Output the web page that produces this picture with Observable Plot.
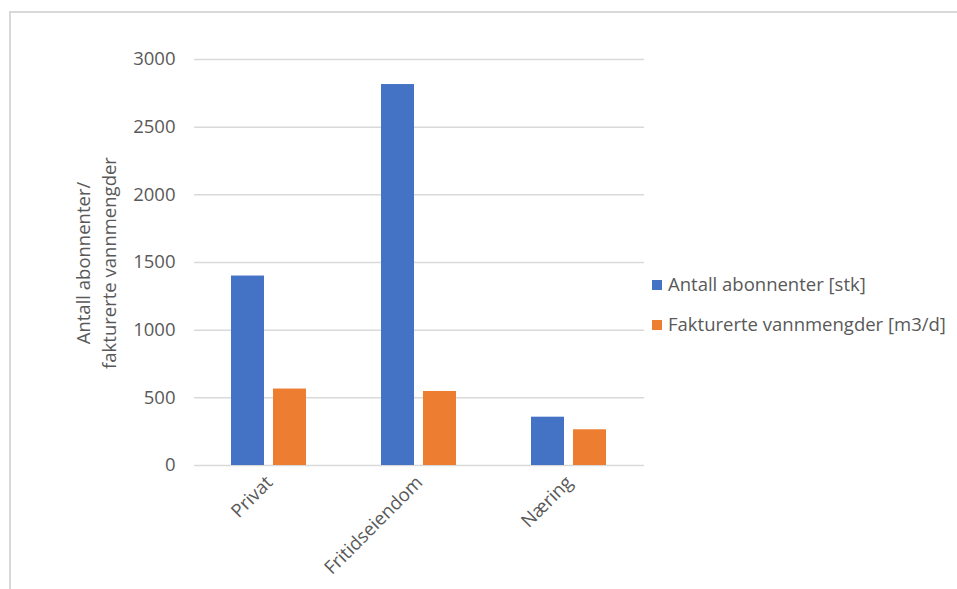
<!DOCTYPE html>
<html>
<head>
<meta charset="utf-8">
<script src="https://cdn.jsdelivr.net/npm/d3@7"></script>
<script src="https://cdn.jsdelivr.net/npm/@observablehq/plot@0.6"></script>
<style>
  html, body { margin: 0; padding: 0; background: #fff; }
  body { width: 957px; height: 589px; position: relative; overflow: hidden; font-family: "Open Sans", sans-serif; }
  #frame { position: absolute; left: 9px; top: 11px; width: 1000px; height: 700px; border-left: 2px solid #d9d9d9; border-top: 2px solid #d9d9d9; box-sizing: border-box; }
  #chart { position: absolute; left: 0; top: 0; }
  .leg { position: absolute; left: 652px; font-size: 18.5px; color: #595959; white-space: nowrap; line-height: 22px; }
  .leg span.sw { display: inline-block; width: 10px; height: 10px; margin-right: 6px; vertical-align: 1px; }
  #ylab { position: absolute; left: 96px; top: 263px; width: 300px; transform: translate(-50%, -50%) rotate(-90deg); text-align: center; font-size: 18.5px; line-height: 26px; color: #595959; white-space: pre; }
</style>
</head>
<body>
<div id="frame"></div>
<div id="chart"></div>
<div id="ylab"></div>
<div class="leg" id="leg0" style="top:273px"></div>
<div class="leg" id="leg1" style="top:313px"></div>
<script>
const categories = ["Privat", "Fritidseiendom", "Næring"];
const seriesNames = ["Antall abonnenter [stk]", "Fakturerte vannmengder [m3/d]"];
const abonnenter = [1400, 2815, 357];
const vannmengder = [565, 547, 264];
const yTicks = [0, 500, 1000, 1500, 2000, 2500, 3000];
const colors = ["#4472C4", "#ED7D31"];
const yLabel = "Antall abonnenter/\nfakturerte vannmengder";

document.getElementById("ylab").textContent = yLabel;
seriesNames.forEach((s, i) => {
  const el = document.getElementById("leg" + i);
  const sw = document.createElement("span");
  sw.className = "sw";
  sw.style.background = colors[i];
  el.appendChild(sw);
  el.appendChild(document.createTextNode(s));
});

const rows = [];
categories.forEach((c, i) => {
  rows.push({cat: c, series: seriesNames[0], value: abonnenter[i]});
  rows.push({cat: c, series: seriesNames[1], value: vannmengder[i]});
});

const chart = Plot.plot({
  width: 957,
  height: 589,
  marginLeft: 193,
  marginRight: 312,
  marginTop: 59,
  marginBottom: 124,
  style: {fontFamily: "'Open Sans', sans-serif", fontSize: "18.5px", color: "#595959", background: "transparent", overflow: "visible"},
  fx: {domain: categories, padding: 0},
  x: {domain: seriesNames, paddingInner: 0.209, paddingOuter: 0.857, axis: null},
  y: {domain: [0, 3000]},
  color: {domain: seriesNames, range: colors},
  marks: [
    Plot.gridY(yTicks, {stroke: "#d9d9d9", strokeOpacity: 1, strokeWidth: 1.5}),
    Plot.axisY(yTicks, {tickSize: 0, tickPadding: 19, label: null, tickFormat: d => String(d), fill: "#595959", fontSize: 18.5}),
    Plot.axisFx({anchor: "bottom", tickSize: 0, tickPadding: 14, tickRotate: -45, label: null, fill: "#595959", fontSize: 18.5}),
    Plot.barY(rows, {fx: "cat", x: "series", y: "value", fill: "series"})
  ]
});
document.getElementById("chart").appendChild(chart);
</script>
</body>
</html>
